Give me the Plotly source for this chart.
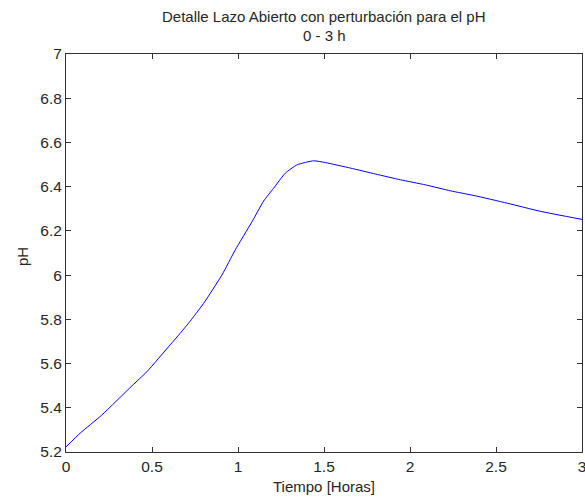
import plotly.graph_objects as go

tiempo = [0.0, 0.082, 0.208, 0.383, 0.47, 0.606, 0.664, 0.722, 0.8, 0.907, 0.984, 1.082, 1.149,
          1.207, 1.275, 1.344, 1.44, 1.508, 1.654, 1.8, 1.945, 2.091, 2.236, 2.372, 2.567, 2.761, 3.0]
ph = [5.223, 5.285, 5.367, 5.499, 5.563, 5.685, 5.737, 5.792, 5.872, 6.001, 6.114, 6.242, 6.335,
      6.393, 6.461, 6.499, 6.517, 6.509, 6.484, 6.457, 6.431, 6.408, 6.381, 6.360, 6.325, 6.288, 6.252]

x_ticks = [0, 0.5, 1, 1.5, 2, 2.5, 3]
x_labels = ["0", "0.5", "1", "1.5", "2", "2.5", "3"]
y_ticks = [5.2, 5.4, 5.6, 5.8, 6.0, 6.2, 6.4, 6.6, 6.8, 7.0]
y_labels = ["5.2", "5.4", "5.6", "5.8", "6", "6.2", "6.4", "6.6", "6.8", "7"]

titulo = "Detalle Lazo Abierto con perturbación para el pH"
subtitulo = "0 - 3 h"
x_titulo = "Tiempo [Horas]"
y_titulo = "pH"

font = "Liberation Sans, Arial, sans-serif"
txt = "#262626"

fig = go.Figure()
fig.add_trace(go.Scatter(x=tiempo, y=ph, mode="lines",
                         line=dict(color="#0000ff", width=1, shape="spline", smoothing=0.5),
                         showlegend=False, hoverinfo="skip"))

axis_common = dict(showgrid=False, zeroline=False, showline=True, linecolor="#303030", linewidth=1,
                   mirror="ticks", ticks="inside", ticklen=5, tickcolor="#303030",
                   ticklabeloverflow="allow", automargin=False,
                   tickfont=dict(family=font, size=15.5, color=txt))

fig.update_layout(
    width=585, height=498,
    margin=dict(l=66, r=3, t=54, b=46, pad=0, autoexpand=False),
    paper_bgcolor="white", plot_bgcolor="white",
    xaxis=dict(range=[0, 3], tickvals=x_ticks, ticktext=x_labels, **axis_common),
    yaxis=dict(range=[5.2, 7.0], tickvals=y_ticks, ticktext=y_labels, **axis_common),
    annotations=[
        dict(text=titulo, xref="paper", yref="paper", x=0.5, y=1.0942, xanchor="center", yanchor="middle",
             showarrow=False, font=dict(family=font, size=15, color=txt)),
        dict(text=subtitulo, xref="paper", yref="paper", x=0.5, y=1.0465, xanchor="center", yanchor="middle",
             showarrow=False, font=dict(family=font, size=15, color=txt)),
        dict(text=x_titulo, xref="paper", yref="paper", x=0.5, y=-0.0879, xanchor="center", yanchor="middle",
             showarrow=False, font=dict(family=font, size=15, color=txt)),
        dict(text=y_titulo, xref="paper", yref="paper", x=-0.0833, y=0.49, xanchor="center", yanchor="middle",
             textangle=-90, showarrow=False, font=dict(family=font, size=15, color=txt)),
    ],
)

fig.write_html("out.html", config={"displayModeBar": False},
               post_script="document.body.style.margin='0';document.body.style.overflow='hidden';")
